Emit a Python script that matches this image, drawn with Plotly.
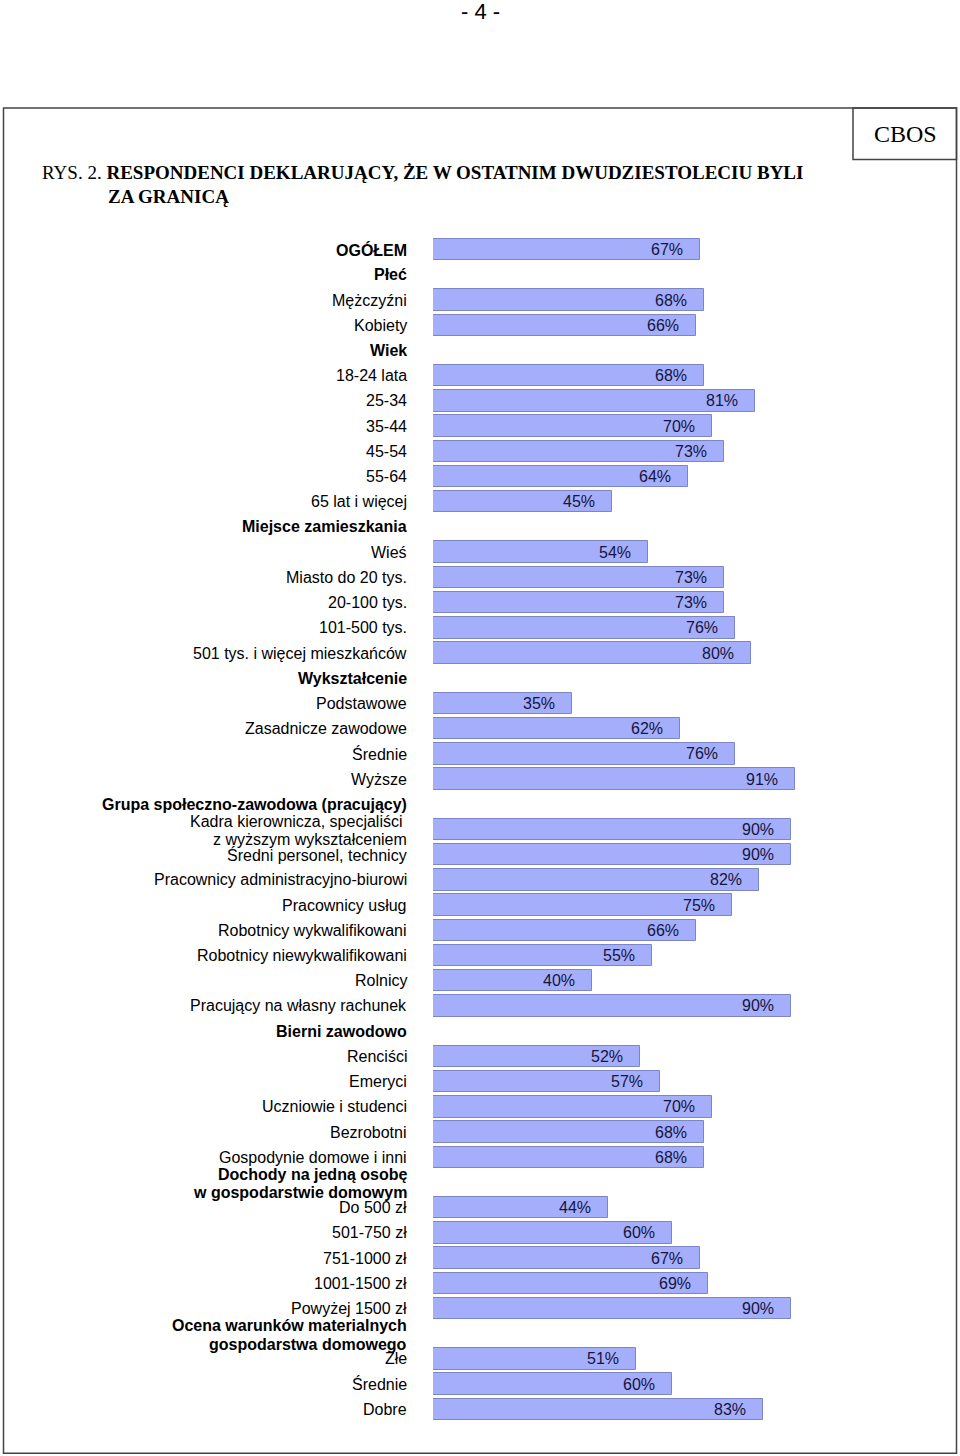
import plotly.graph_objects as go

labels = [
    "OGÓŁEM", "Płeć", "Mężczyźni", "Kobiety", "Wiek",
    "18-24 lata", "25-34", "35-44", "45-54", "55-64", "65 lat i więcej",
    "Miejsce zamieszkania", "Wieś", "Miasto do 20 tys.", "20-100 tys.", "101-500 tys.",
    "501 tys. i więcej mieszkańców",
    "Wykształcenie", "Podstawowe", "Zasadnicze zawodowe", "Średnie", "Wyższe",
    "Grupa społeczno-zawodowa (pracujący)",
    "Kadra kierownicza, specjaliści <br>z wyższym wykształceniem",
    "Średni personel, technicy", "Pracownicy administracyjno-biurowi", "Pracownicy usług",
    "Robotnicy wykwalifikowani", "Robotnicy niewykwalifikowani", "Rolnicy",
    "Pracujący na własny rachunek",
    "Bierni zawodowo", "Renciści", "Emeryci", "Uczniowie i studenci", "Bezrobotni",
    "Gospodynie domowe i inni",
    "Dochody na jedną osobę<br>w gospodarstwie domowym",
    "Do 500 zł", "501-750 zł", "751-1000 zł", "1001-1500 zł", "Powyżej 1500 zł",
    "Ocena warunków materialnych<br>gospodarstwa domowego",
    "Złe", "Średnie", "Dobre",
]
values = [
    67, None, 68, 66, None,
    68, 81, 70, 73, 64, 45,
    None, 54, 73, 73, 76, 80,
    None, 35, 62, 76, 91,
    None, 90, 90, 82, 75, 66, 55, 40, 90,
    None, 52, 57, 70, 68, 68,
    None, 44, 60, 67, 69, 90,
    None, 51, 60, 83,
]
bold_rows = {"OGÓŁEM", "Płeć", "Wiek", "Miejsce zamieszkania", "Wykształcenie",
             "Grupa społeczno-zawodowa (pracujący)", "Bierni zawodowo",
             "Dochody na jedną osobę<br>w gospodarstwie domowym",
             "Ocena warunków materialnych<br>gospodarstwa domowego"}

W, H = 960, 1456
L, R = 433, 831          # plot area pixel edges (0..100 %)
ROW = 25.2
n = len(labels)
T = 250 - ROW / 2
B = T + n * ROW

def px(xp):
    return (xp - L) / (R - L)

def py(yp):
    return (B - yp) / (B - T)

idx = list(range(n))
bar_y = [i for i, v in zip(idx, values) if v is not None]
bar_x = [v for v in values if v is not None]

fig = go.Figure(go.Bar(
    x=bar_x, y=bar_y, orientation="h", width=0.85,
    marker=dict(color="#A4AEFA", line=dict(color="#7C86C4", width=1)),
    hoverinfo="skip",
))

sans = "Arial, Liberation Sans"
ann = []
LINE = 18.5
for i, lab in enumerate(labels):
    parts = lab.split("<br>")
    k = len(parts)
    for j, part in enumerate(parts):
        txt = f"<b>{part}</b>" if lab in bold_rows else part
        shift = -(j - (k - 1) / 2) * LINE - (1 if k > 1 else 0)
        ann.append(dict(x=0, xref="paper", y=i, yref="y", text=txt, showarrow=False,
                        xanchor="right", yanchor="middle", xshift=-24, yshift=shift,
                        align="right", font=dict(family=sans, size=16, color="#000")))
for yv, xv in zip(bar_y, bar_x):
    ann.append(dict(x=xv, xref="x", y=yv, yref="y", text=f"{xv}%", showarrow=False,
                    xanchor="right", yanchor="middle", xshift=-15,
                    font=dict(family=sans, size=16, color="#151540")))

serif = "Times New Roman, Liberation Serif"
ann += [
    dict(x=px(480), xref="paper", y=py(12), yref="paper", text="- 4 -", showarrow=False,
         xanchor="center", yanchor="middle",
         font=dict(family=sans, size=22, color="#000")),
    dict(x=px(40), xref="paper", y=py(173), yref="paper",
         text="RYS. 2. <b>RESPONDENCI DEKLARUJĄCY, ŻE W OSTATNIM DWUDZIESTOLECIU BYLI</b>",
         showarrow=False, xanchor="left", yanchor="middle",
         font=dict(family=serif, size=19, color="#000")),
    dict(x=px(106), xref="paper", y=py(197), yref="paper", text="<b>ZA GRANICĄ</b>",
         showarrow=False, xanchor="left", yanchor="middle",
         font=dict(family=serif, size=19, color="#000")),
    dict(x=px(905), xref="paper", y=py(134), yref="paper", text="CBOS",
         showarrow=False, xanchor="center", yanchor="middle",
         font=dict(family=serif, size=24, color="#000")),
]

shapes = [
    dict(type="rect", xref="paper", yref="paper", x0=px(3.5), x1=px(956.5),
         y0=py(1453), y1=py(108.5), line=dict(color="#444", width=1.5)),
    dict(type="rect", xref="paper", yref="paper", x0=px(853), x1=px(956.5),
         y0=py(160), y1=py(108.5), line=dict(color="#444", width=1.5)),
]

fig.update_layout(
    width=W, height=H, margin=dict(l=L, r=W - R, t=T, b=H - B, pad=0),
    paper_bgcolor="white", plot_bgcolor="white", showlegend=False,
    xaxis=dict(range=[0, 100], visible=False, fixedrange=True),
    yaxis=dict(range=[n - 0.5, -0.5], visible=False, fixedrange=True),
    annotations=ann, shapes=shapes, bargap=0,
)
fig.write_html("out.html")
